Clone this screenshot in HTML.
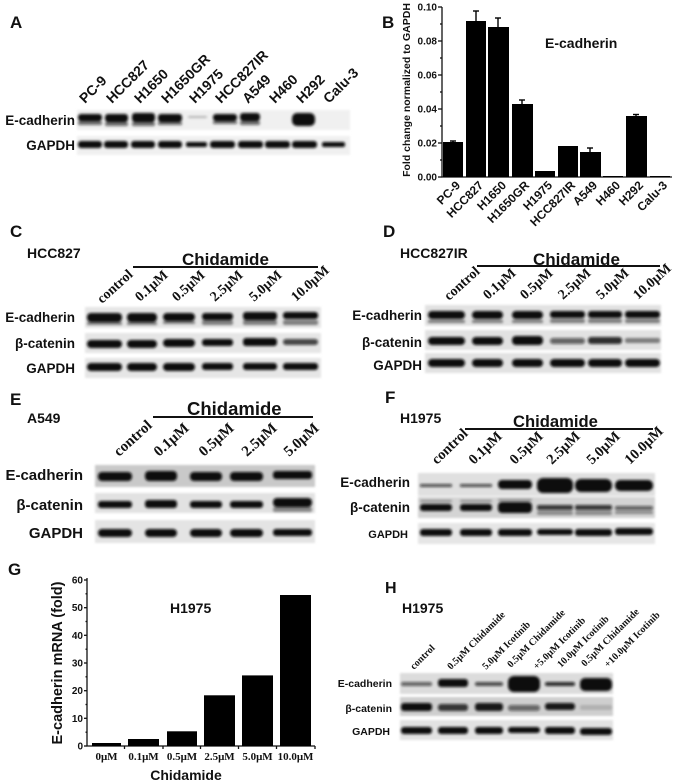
<!DOCTYPE html>
<html><head><meta charset="utf-8">
<style>
html,body{margin:0;padding:0;background:#fff;}
svg{display:block;}
.s{font-family:"Liberation Sans",Arial,sans-serif;font-weight:bold;fill:#111;}
.r{font-family:"Liberation Serif","Times New Roman",serif;font-weight:bold;fill:#111;}
</style></head>
<body>
<svg width="677" height="784" viewBox="0 0 677 784" xmlns="http://www.w3.org/2000/svg">
<defs>
<filter id="b" x="-20%" y="-50%" width="140%" height="200%"><feGaussianBlur stdDeviation="1.2"/></filter>
<filter id="bg" x="-5%" y="-20%" width="110%" height="140%"><feGaussianBlur stdDeviation="1"/></filter>
</defs>
<rect width="677" height="784" fill="#fff"/>

<!-- ============ PANEL A ============ -->
<text class="s" x="10" y="28" font-size="17">A</text>
<g class="s" font-size="14">
<text transform="translate(85,104) rotate(-45)">PC-9</text>
<text transform="translate(112,104) rotate(-45)">HCC827</text>
<text transform="translate(140,104) rotate(-45)">H1650</text>
<text transform="translate(167,104) rotate(-45)">H1650GR</text>
<text transform="translate(195,104) rotate(-45)">H1975</text>
<text transform="translate(221,104) rotate(-45)">HCC827IR</text>
<text transform="translate(248,104) rotate(-45)">A549</text>
<text transform="translate(275,104) rotate(-45)">H460</text>
<text transform="translate(302,104) rotate(-45)">H292</text>
<text transform="translate(329,104) rotate(-45)">Calu-3</text>
</g>
<text class="s" x="75" y="125" font-size="13.5" text-anchor="end">E-cadherin</text>
<text class="s" x="75" y="150" font-size="13.5" text-anchor="end">GAPDH</text>
<rect x="77" y="110" width="273" height="20" fill="#f0f0f0" filter="url(#bg)"/>
<rect x="77" y="136" width="273" height="19" fill="#f0f0f0" filter="url(#bg)"/>
<g fill="#0c0c0c" filter="url(#b)">
<rect x="78" y="114" width="24" height="7" rx="3"/>
<rect x="105" y="114" width="23" height="8" rx="3"/>
<rect x="132" y="113" width="23" height="9" rx="3"/>
<rect x="158" y="114" width="24" height="8" rx="3"/>
<rect x="188" y="116" width="19" height="2" rx="1" opacity=".25"/>
<rect x="213" y="114" width="24" height="7" rx="3"/>
<rect x="240" y="113" width="20" height="8" rx="3"/>
<rect x="292" y="113" width="23" height="13" rx="5"/>
<g opacity=".6">
<rect x="78" y="121" width="24" height="4" rx="2"/>
<rect x="105" y="122" width="23" height="4" rx="2"/>
<rect x="132" y="122" width="23" height="4" rx="2"/>
<rect x="158" y="122" width="24" height="3" rx="1"/>
<rect x="213" y="121" width="24" height="3" rx="1"/>
<rect x="240" y="121" width="20" height="4" rx="2"/>
</g>
<rect x="78" y="141" width="24" height="7" rx="3"/>
<rect x="104" y="141" width="24" height="7" rx="3"/>
<rect x="131" y="141" width="24" height="7" rx="3"/>
<rect x="158" y="141" width="24" height="7" rx="3"/>
<rect x="186" y="142" width="21" height="5" rx="2"/>
<rect x="210" y="141" width="25" height="7" rx="3"/>
<rect x="238" y="141" width="25" height="7" rx="3"/>
<rect x="265" y="141" width="25" height="7" rx="3"/>
<rect x="292" y="141" width="25" height="7" rx="3"/>
<rect x="322" y="142" width="23" height="5" rx="2"/>
</g>

<!-- ============ PANEL B ============ -->
<text class="s" x="382" y="28" font-size="17">B</text>
<text class="s" font-size="10.5" text-anchor="middle" transform="translate(410,90) rotate(-90)">Fold change normalized to GAPDH</text>
<g class="s" font-size="10" text-anchor="end">
<text x="437" y="10.5">0.10</text>
<text x="437" y="44.5">0.08</text>
<text x="437" y="78.5">0.06</text>
<text x="437" y="112.5">0.04</text>
<text x="437" y="146.5">0.02</text>
<text x="437" y="180.5">0.00</text>
</g>
<g stroke="#111" stroke-width="1.3" fill="none">
<line x1="442" y1="7" x2="442" y2="177.5"/>
<line x1="441.5" y1="177" x2="672" y2="177"/>
<line x1="438" y1="7" x2="442" y2="7"/>
<line x1="438" y1="41" x2="442" y2="41"/>
<line x1="438" y1="75" x2="442" y2="75"/>
<line x1="438" y1="109" x2="442" y2="109"/>
<line x1="438" y1="143" x2="442" y2="143"/>
<line x1="438" y1="177" x2="442" y2="177"/>
<line x1="440" y1="24" x2="442" y2="24"/>
<line x1="440" y1="58" x2="442" y2="58"/>
<line x1="440" y1="92" x2="442" y2="92"/>
<line x1="440" y1="126" x2="442" y2="126"/>
<line x1="440" y1="160" x2="442" y2="160"/>
</g>
<g fill="#000">
<rect x="443" y="142" width="20" height="35"/>
<rect x="466" y="21" width="20" height="156"/>
<rect x="488" y="27" width="21" height="150"/>
<rect x="512" y="104" width="21" height="73"/>
<rect x="535" y="171" width="20" height="6"/>
<rect x="558" y="146" width="20" height="31"/>
<rect x="580" y="152" width="21" height="25"/>
<rect x="603" y="176" width="20" height="1"/>
<rect x="626" y="116" width="21" height="61"/>
<rect x="650" y="176" width="20" height="1"/>
</g>
<g stroke="#000" stroke-width="1.4">
<line x1="476" y1="21" x2="476" y2="11"/><line x1="473" y1="11" x2="479" y2="11"/>
<line x1="498" y1="27" x2="498" y2="18"/><line x1="495" y1="18" x2="501" y2="18"/>
<line x1="522" y1="104" x2="522" y2="100"/><line x1="519" y1="100" x2="525" y2="100"/>
<line x1="590" y1="152" x2="590" y2="148"/><line x1="587" y1="148" x2="593" y2="148"/>
<line x1="636" y1="116" x2="636" y2="114.5"/><line x1="633" y1="114.5" x2="639" y2="114.5"/>
<line x1="453" y1="142" x2="453" y2="141"/><line x1="450" y1="141" x2="456" y2="141"/>
</g>
<text class="s" x="545" y="48" font-size="14">E-cadherin</text>
<g class="s" font-size="12" text-anchor="end">
<text transform="translate(461,186) rotate(-45)">PC-9</text>
<text transform="translate(484,186) rotate(-45)">HCC827</text>
<text transform="translate(507,186) rotate(-45)">H1650</text>
<text transform="translate(530,186) rotate(-45)">H1650GR</text>
<text transform="translate(553,186) rotate(-45)">H1975</text>
<text transform="translate(576,186) rotate(-45)">HCC827IR</text>
<text transform="translate(598,186) rotate(-45)">A549</text>
<text transform="translate(621,186) rotate(-45)">H460</text>
<text transform="translate(644,186) rotate(-45)">H292</text>
<text transform="translate(668,186) rotate(-45)">Calu-3</text>
</g>

<!-- ============ PANEL C ============ -->
<text class="s" x="10" y="237" font-size="17">C</text>
<text class="s" x="27" y="258" font-size="14">HCC827</text>
<text class="s" x="182" y="265" font-size="17">Chidamide</text>
<line x1="133" y1="267" x2="318" y2="267" stroke="#111" stroke-width="2"/>
<g class="r" font-size="14">
<text transform="translate(102,304) rotate(-42)">control</text>
<text transform="translate(140,302) rotate(-42)">0.1μM</text>
<text transform="translate(177,302) rotate(-42)">0.5μM</text>
<text transform="translate(215,302) rotate(-42)">2.5μM</text>
<text transform="translate(254,302) rotate(-42)">5.0μM</text>
<text transform="translate(296,302) rotate(-42)">10.0μM</text>
</g>
<text class="s" x="75" y="322" font-size="13.5" text-anchor="end">E-cadherin</text>
<text class="s" x="75" y="348" font-size="13.5" text-anchor="end">β-catenin</text>
<text class="s" x="75" y="373" font-size="13.5" text-anchor="end">GAPDH</text>
<g fill="#e6e6e6" filter="url(#bg)">
<rect x="85" y="307" width="236" height="21"/>
<rect x="85" y="333" width="236" height="20"/>
<rect x="85" y="358" width="236" height="20"/>
</g>
<g fill="#0c0c0c" filter="url(#b)">
<rect x="87" y="313" width="35" height="9" rx="4"/>
<rect x="127" y="313" width="30" height="9" rx="4"/>
<rect x="163" y="313" width="32" height="8" rx="4"/>
<rect x="202" y="313" width="31" height="7" rx="3"/>
<rect x="243" y="312" width="34" height="8" rx="3"/>
<rect x="283" y="312" width="35" height="7" rx="3"/>
<g opacity=".45">
<rect x="87" y="322" width="35" height="3" rx="1"/>
<rect x="127" y="322" width="30" height="3" rx="1"/>
<rect x="163" y="321" width="32" height="3" rx="1"/>
<rect x="202" y="320" width="31" height="5" rx="2"/>
<rect x="243" y="320" width="34" height="5" rx="2"/>
<rect x="283" y="320" width="35" height="5" rx="2"/>
</g>
<rect x="87" y="340" width="35" height="8" rx="4"/>
<rect x="127" y="340" width="30" height="8" rx="4"/>
<rect x="163" y="339" width="32" height="8" rx="4"/>
<rect x="202" y="339" width="31" height="7" rx="3"/>
<rect x="243" y="338" width="34" height="8" rx="3"/>
<rect x="283" y="339" width="35" height="6" rx="3" opacity=".75"/>
<rect x="87" y="363" width="35" height="8" rx="4"/>
<rect x="127" y="363" width="30" height="8" rx="4"/>
<rect x="163" y="363" width="32" height="8" rx="4"/>
<rect x="202" y="363" width="31" height="7" rx="3"/>
<rect x="243" y="363" width="34" height="7" rx="3"/>
<rect x="283" y="363" width="35" height="7" rx="3"/>
</g>

<!-- ============ PANEL D ============ -->
<text class="s" x="383" y="237" font-size="17">D</text>
<text class="s" x="400" y="258" font-size="14">HCC827IR</text>
<text class="s" x="533" y="265" font-size="17">Chidamide</text>
<line x1="477" y1="266" x2="660" y2="266" stroke="#111" stroke-width="2"/>
<g class="r" font-size="14">
<text transform="translate(449,301) rotate(-42)">control</text>
<text transform="translate(488,300) rotate(-42)">0.1μM</text>
<text transform="translate(525,300) rotate(-42)">0.5μM</text>
<text transform="translate(563,300) rotate(-42)">2.5μM</text>
<text transform="translate(601,300) rotate(-42)">5.0μM</text>
<text transform="translate(638,300) rotate(-42)">10.0μM</text>
</g>
<text class="s" x="422" y="320" font-size="13.5" text-anchor="end">E-cadherin</text>
<text class="s" x="422" y="347" font-size="13.5" text-anchor="end">β-catenin</text>
<text class="s" x="422" y="370" font-size="13.5" text-anchor="end">GAPDH</text>
<g fill="#e2e2e2" filter="url(#bg)">
<rect x="425" y="305" width="236" height="21"/>
<rect x="425" y="330" width="236" height="20"/>
<rect x="425" y="353" width="236" height="20"/>
</g>
<g fill="#0c0c0c" filter="url(#b)">
<rect x="428" y="311" width="37" height="8" rx="4"/>
<rect x="472" y="311" width="31" height="8" rx="4"/>
<rect x="512" y="311" width="31" height="8" rx="4"/>
<rect x="550" y="311" width="35" height="7" rx="3"/>
<rect x="588" y="311" width="34" height="7" rx="3"/>
<rect x="625" y="311" width="35" height="7" rx="3"/>
<g opacity=".45">
<rect x="428" y="320" width="37" height="3" rx="1"/>
<rect x="472" y="320" width="31" height="3" rx="1"/>
<rect x="512" y="320" width="31" height="3" rx="1"/>
<rect x="550" y="319" width="35" height="4" rx="2"/>
<rect x="588" y="319" width="34" height="4" rx="2"/>
<rect x="625" y="319" width="35" height="4" rx="2"/>
</g>
<rect x="428" y="337" width="37" height="8" rx="4"/>
<rect x="472" y="337" width="31" height="8" rx="4"/>
<rect x="512" y="336" width="31" height="9" rx="4"/>
<rect x="550" y="338" width="35" height="6" rx="3" opacity=".6"/>
<rect x="588" y="337" width="34" height="7" rx="3" opacity=".85"/>
<rect x="625" y="338" width="35" height="5" rx="2" opacity=".45"/>
<rect x="428" y="359" width="37" height="8" rx="4"/>
<rect x="472" y="359" width="31" height="8" rx="4"/>
<rect x="512" y="359" width="31" height="8" rx="4"/>
<rect x="550" y="359" width="35" height="8" rx="4"/>
<rect x="588" y="359" width="34" height="8" rx="4"/>
<rect x="625" y="359" width="35" height="8" rx="4"/>
</g>

<!-- ============ PANEL E ============ -->
<text class="s" x="10" y="405" font-size="17">E</text>
<text class="s" x="27" y="423" font-size="14">A549</text>
<text class="s" x="187" y="415" font-size="18.5">Chidamide</text>
<line x1="153" y1="417" x2="313" y2="417" stroke="#111" stroke-width="2"/>
<g class="r" font-size="15">
<text transform="translate(119,457) rotate(-42)">control</text>
<text transform="translate(159,457) rotate(-42)">0.1μM</text>
<text transform="translate(204,457) rotate(-42)">0.5μM</text>
<text transform="translate(247,457) rotate(-42)">2.5μM</text>
<text transform="translate(289,457) rotate(-42)">5.0μM</text>
</g>
<text class="s" x="83" y="480" font-size="15" text-anchor="end">E-cadherin</text>
<text class="s" x="83" y="510" font-size="15" text-anchor="end">β-catenin</text>
<text class="s" x="83" y="538" font-size="15" text-anchor="end">GAPDH</text>
<g filter="url(#bg)">
<rect x="95" y="465" width="220" height="22" fill="#c9c9c9"/>
<rect x="95" y="493" width="220" height="20" fill="#e2e2e2"/>
<rect x="95" y="520" width="220" height="23" fill="#e4e4e4"/>
</g>
<g fill="#0c0c0c" filter="url(#b)">
<rect x="98" y="472" width="34" height="9" rx="4"/>
<rect x="145" y="471" width="32" height="10" rx="4"/>
<rect x="190" y="472" width="32" height="9" rx="4"/>
<rect x="230" y="472" width="33" height="9" rx="4"/>
<rect x="273" y="471" width="39" height="8" rx="3"/>
<rect x="98" y="501" width="34" height="7" rx="3"/>
<rect x="145" y="500" width="32" height="8" rx="3"/>
<rect x="190" y="501" width="32" height="7" rx="3"/>
<rect x="230" y="501" width="33" height="7" rx="3"/>
<rect x="273" y="498" width="39" height="9" rx="4"/>
<rect x="273" y="507" width="39" height="5" rx="2" opacity=".4"/>
<rect x="98" y="529" width="34" height="8" rx="4"/>
<rect x="145" y="529" width="32" height="8" rx="4"/>
<rect x="190" y="529" width="32" height="8" rx="4"/>
<rect x="230" y="529" width="33" height="8" rx="4"/>
<rect x="273" y="529" width="39" height="7" rx="3"/>
</g>

<!-- ============ PANEL F ============ -->
<text class="s" x="385" y="403" font-size="17">F</text>
<text class="s" x="400" y="423" font-size="14">H1975</text>
<text class="s" x="513" y="427" font-size="16.6">Chidamide</text>
<line x1="465" y1="429" x2="653" y2="429" stroke="#111" stroke-width="2"/>
<g class="r" font-size="14.5">
<text transform="translate(437,465) rotate(-44)">control</text>
<text transform="translate(474,465) rotate(-44)">0.1μM</text>
<text transform="translate(515,465) rotate(-44)">0.5μM</text>
<text transform="translate(552,465) rotate(-44)">2.5μM</text>
<text transform="translate(592,465) rotate(-44)">5.0μM</text>
<text transform="translate(630,465) rotate(-44)">10.0μM</text>
</g>
<text class="s" x="410" y="487" font-size="13.5" text-anchor="end">E-cadherin</text>
<text class="s" x="410" y="512" font-size="13.5" text-anchor="end">β-catenin</text>
<text class="s" x="408" y="538" font-size="11" text-anchor="end">GAPDH</text>
<g filter="url(#bg)">
<rect x="418" y="473" width="237" height="23" fill="#e0e0e0"/>
<rect x="418" y="497" width="237" height="21" fill="#d4d4d4"/>
<rect x="418" y="523" width="237" height="21" fill="#e6e6e6"/>
</g>
<g fill="#0c0c0c" filter="url(#b)">
<rect x="420" y="484" width="32" height="3" rx="1" opacity=".7"/>
<rect x="460" y="484" width="32" height="3" rx="1" opacity=".7"/>
<rect x="498" y="480" width="34" height="9" rx="4"/>
<rect x="537" y="478" width="36" height="15" rx="6"/>
<rect x="575" y="479" width="37" height="13" rx="6"/>
<rect x="615" y="480" width="38" height="11" rx="5"/>
<rect x="420" y="504" width="32" height="7" rx="3"/>
<rect x="460" y="504" width="32" height="7" rx="3"/>
<rect x="498" y="502" width="34" height="11" rx="4"/>
<rect x="537" y="505" width="36" height="5" rx="2" opacity=".8"/>
<rect x="575" y="505" width="37" height="5" rx="2" opacity=".8"/>
<rect x="615" y="506" width="38" height="4" rx="2" opacity=".6"/>
<g opacity=".35">
<rect x="420" y="500" width="32" height="2" rx="1"/>
<rect x="460" y="500" width="32" height="2" rx="1"/>
<rect x="498" y="499" width="34" height="2" rx="1"/>
<rect x="537" y="511" width="36" height="4" rx="2"/>
<rect x="575" y="511" width="37" height="4" rx="2"/>
<rect x="615" y="511" width="38" height="3" rx="1"/>
</g>
<rect x="420" y="529" width="32" height="7" rx="3"/>
<rect x="460" y="529" width="32" height="7" rx="3"/>
<rect x="498" y="529" width="34" height="7" rx="3"/>
<rect x="537" y="529" width="36" height="6" rx="3"/>
<rect x="575" y="529" width="37" height="7" rx="3"/>
<rect x="615" y="528" width="38" height="7" rx="3"/>
</g>

<!-- ============ PANEL G ============ -->
<text class="s" x="8" y="575" font-size="17">G</text>
<text class="s" font-size="14.5" text-anchor="middle" transform="translate(62,663) rotate(-90)">E-cadherin mRNA (fold)</text>
<g class="s" font-size="10" text-anchor="end">
<text x="83" y="583.5">60</text>
<text x="83" y="611">50</text>
<text x="83" y="639">40</text>
<text x="83" y="666.5">30</text>
<text x="83" y="694">20</text>
<text x="83" y="722">10</text>
<text x="83" y="749.5">0</text>
</g>
<g stroke="#111" stroke-width="1.3">
<line x1="87" y1="578" x2="87" y2="746.5"/>
<line x1="86.5" y1="746" x2="315" y2="746"/>
<line x1="84" y1="580" x2="87" y2="580"/>
<line x1="84" y1="607.7" x2="87" y2="607.7"/>
<line x1="84" y1="635.3" x2="87" y2="635.3"/>
<line x1="84" y1="663" x2="87" y2="663"/>
<line x1="84" y1="690.7" x2="87" y2="690.7"/>
<line x1="84" y1="718.3" x2="87" y2="718.3"/>
<line x1="84" y1="746" x2="87" y2="746"/>
<line x1="85.5" y1="593.8" x2="87" y2="593.8"/>
<line x1="85.5" y1="621.5" x2="87" y2="621.5"/>
<line x1="85.5" y1="649.2" x2="87" y2="649.2"/>
<line x1="85.5" y1="676.8" x2="87" y2="676.8"/>
<line x1="85.5" y1="704.5" x2="87" y2="704.5"/>
<line x1="85.5" y1="732.2" x2="87" y2="732.2"/>
<line x1="124.5" y1="746" x2="124.5" y2="749"/>
<line x1="163" y1="746" x2="163" y2="749"/>
<line x1="200.5" y1="746" x2="200.5" y2="749"/>
<line x1="238.5" y1="746" x2="238.5" y2="749"/>
<line x1="276.5" y1="746" x2="276.5" y2="749"/>
<line x1="315" y1="746" x2="315" y2="749"/>
</g>
<g fill="#000">
<rect x="92" y="743" width="29" height="3"/>
<rect x="128" y="739" width="31" height="7"/>
<rect x="167" y="731.3" width="30" height="14.7"/>
<rect x="204" y="695.3" width="31" height="50.7"/>
<rect x="242" y="675.4" width="31" height="70.6"/>
<rect x="280" y="595" width="31" height="151"/>
</g>
<text class="s" x="170" y="613" font-size="14">H1975</text>
<g class="r" font-size="11" text-anchor="middle">
<text x="106.5" y="760">0μM</text>
<text x="143.5" y="760">0.1μM</text>
<text x="182" y="760">0.5μM</text>
<text x="219.5" y="760">2.5μM</text>
<text x="257.5" y="760">5.0μM</text>
<text x="295.5" y="760">10.0μM</text>
</g>
<text class="s" x="186" y="780" font-size="14" text-anchor="middle">Chidamide</text>

<!-- ============ PANEL H ============ -->
<text class="s" x="385" y="593" font-size="16">H</text>
<text class="s" x="402" y="613" font-size="14">H1975</text>
<g class="r" font-size="10">
<text transform="translate(414,670) rotate(-45)">control</text>
<text transform="translate(451,670) rotate(-45)">0.5μM Chidamide</text>
<text transform="translate(486,670) rotate(-45)">5.0μM Icotinib</text>
<text transform="translate(511,668) rotate(-45)">0.5μM Chidamide</text>
<text transform="translate(537,670) rotate(-45)">+5.0μM Icotinib</text>
<text transform="translate(561,668) rotate(-45)">10.0μM Icotinib</text>
<text transform="translate(585,667) rotate(-45)">0.5μM Chidamide</text>
<text transform="translate(608,668) rotate(-45)">+10.0μM Icotinib</text>
</g>
<text class="s" x="392" y="687" font-size="10.5" text-anchor="end">E-cadherin</text>
<text class="s" x="392" y="712" font-size="10.5" text-anchor="end">β-catenin</text>
<text class="s" x="390" y="735" font-size="10.5" text-anchor="end">GAPDH</text>
<g filter="url(#bg)">
<rect x="400" y="673" width="213" height="21" fill="#dcdcdc"/>
<rect x="400" y="697" width="213" height="19" fill="#cfcfcf"/>
<rect x="400" y="720" width="213" height="20" fill="#e2e2e2"/>
</g>
<g fill="#0c0c0c" filter="url(#b)">
<rect x="401" y="682" width="31" height="4" rx="2" opacity=".6"/>
<rect x="438" y="679" width="30" height="8" rx="3"/>
<rect x="475" y="682" width="28" height="4" rx="2" opacity=".7"/>
<rect x="508" y="676" width="32" height="16" rx="6"/>
<rect x="545" y="682" width="30" height="4" rx="2" opacity=".85"/>
<rect x="580" y="678" width="32" height="13" rx="5"/>
<rect x="401" y="703" width="31" height="8" rx="3"/>
<rect x="438" y="704" width="30" height="7" rx="3" opacity=".8"/>
<rect x="475" y="703" width="28" height="8" rx="3" opacity=".95"/>
<rect x="508" y="705" width="32" height="6" rx="3" opacity=".55"/>
<rect x="545" y="703" width="30" height="7" rx="3" opacity=".95"/>
<rect x="580" y="705" width="32" height="5" rx="2" opacity=".15"/>
<rect x="401" y="727" width="31" height="7" rx="3"/>
<rect x="438" y="727" width="30" height="7" rx="3"/>
<rect x="475" y="727" width="28" height="7" rx="3"/>
<rect x="508" y="727" width="32" height="6" rx="3"/>
<rect x="545" y="727" width="30" height="7" rx="3"/>
<rect x="580" y="728" width="32" height="7" rx="3"/>
</g>
</svg>
</body></html>
